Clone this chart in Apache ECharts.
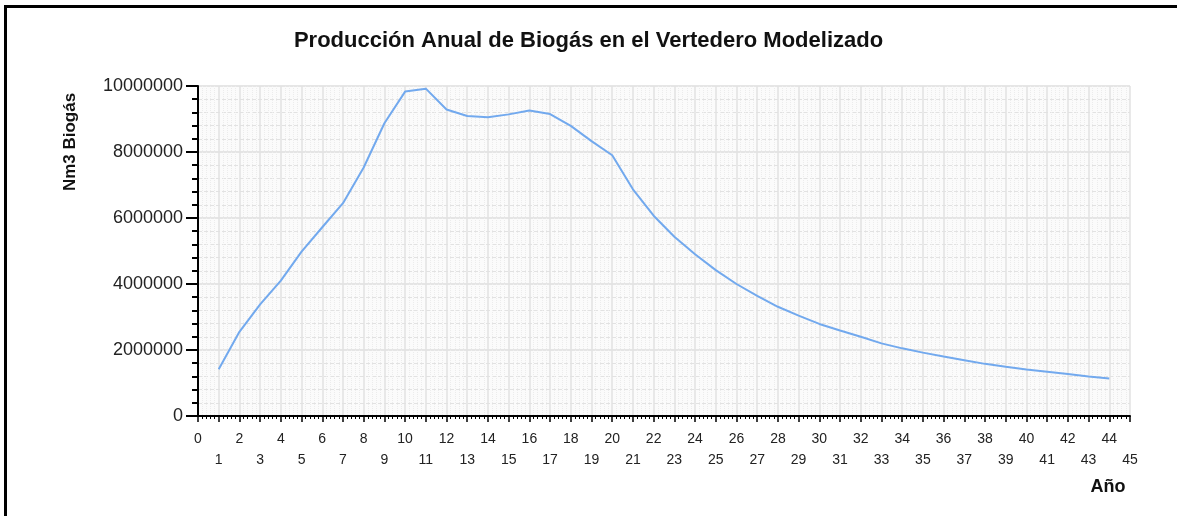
<!DOCTYPE html>
<html>
<head>
<meta charset="utf-8">
<script src="https://cdn.jsdelivr.net/npm/echarts@6/dist/echarts.min.js"></script>
<style>
	html, body { margin: 0; padding: 0; background: #fff; overflow: hidden; }
	#chart-box { width: 1177px; height: 516px; }
</style>
</head>
<body>
<div id="chart-box"></div>
<script>
var years = [1, 2, 3, 4, 5, 6, 7, 8, 9, 10, 11, 12, 13, 14, 15, 16, 17, 18, 19, 20, 21, 22,
	23, 24, 25, 26, 27, 28, 29, 30, 31, 32, 33, 34, 35, 36, 37, 38, 39, 40, 41, 42, 43, 44];
var biogas = [1420000, 2550000, 3380000, 4100000, 4980000, 5720000, 6450000, 7530000, 8870000, 9830000,
	9920000, 9290000, 9090000, 9050000, 9140000, 9260000, 9150000, 8790000, 8330000, 7900000,
	6870000, 6070000, 5430000, 4900000, 4420000, 4000000, 3640000, 3310000, 3040000, 2790000,
	2590000, 2400000, 2200000, 2050000, 1920000, 1800000, 1690000, 1580000, 1490000, 1410000,
	1340000, 1270000, 1200000, 1140000];
var yTicks = [0, 2000000, 4000000, 6000000, 8000000, 10000000];

var font = "'Liberation Sans', Arial, sans-serif";
var chart = echarts.init(document.getElementById("chart-box"));

var option = {
	animation: false,
	backgroundColor: "#fff",
	title: {
		text: "Producción Anual de Biogás en el Vertedero Modelizado",
		left: "center",
		top: 30,
		padding: 0,
		textStyle: {
			fontFamily: font,
			fontSize: 22,
			fontWeight: "bold",
			color: "#111"
		}
	},
	graphic: [
		// outer frame, only left and top edges are in view
		{
			type: "polyline",
			shape: { points: [[5.5, 520], [5.5, 6.5], [1180, 6.5]] },
			style: { stroke: "#000", lineWidth: 3, fill: null }
		},
		{
			type: "text",
			x: 70,
			y: 142,
			rotation: Math.PI / 2,
			style: {
				text: "Nm3 Biogás",
				font: "bold 17px " + font,
				fill: "#111",
				textAlign: "center",
				textVerticalAlign: "middle"
			}
		},
		{
			type: "text",
			x: 1108,
			y: 487,
			style: {
				text: "Año",
				font: "bold 18px " + font,
				fill: "#111",
				textAlign: "center",
				textVerticalAlign: "middle"
			}
		}
	],
	grid: {
		left: 198,
		right: 47,
		top: 86,
		bottom: 100,
		show: true,
		backgroundColor: "#fbfbfb",
		borderWidth: 0
	},
	xAxis: {
		type: "value",
		min: 0,
		max: 45,
		interval: 1,
		axisLine: { lineStyle: { color: "#000", width: 2 } },
		axisTick: { length: 6, lineStyle: { color: "#000", width: 1.5 } },
		minorTick: { show: true, splitNumber: 5, length: 3, lineStyle: { color: "#000" } },
		axisLabel: {
			margin: 13,
			fontFamily: font,
			fontSize: 14,
			lineHeight: 21,
			color: "#222",
			showMinLabel: true,
			showMaxLabel: true,
			formatter: function (v) {
				return v % 2 ? "\n" + v : String(v);
			}
		},
		splitLine: { show: true, lineStyle: { color: "#e2e2e2", width: 1.5 } },
		minorSplitLine: { show: true, lineStyle: { color: "#ececec", type: "dotted" } }
	},
	yAxis: {
		type: "value",
		min: yTicks[0],
		max: yTicks[yTicks.length - 1],
		interval: 2000000,
		axisLine: { show: true, lineStyle: { color: "#000", width: 2 } },
		axisTick: { show: true, length: 12, lineStyle: { color: "#000", width: 2 } },
		minorTick: { show: true, splitNumber: 5, length: 6, lineStyle: { color: "#000", width: 2 } },
		axisLabel: {
			margin: 15,
			fontFamily: font,
			fontSize: 18,
			color: "#222",
			formatter: function (v) {
				return String(v);
			}
		},
		splitLine: { show: true, lineStyle: { color: "#dedede", width: 1.5 } },
		minorSplitLine: { show: true, lineStyle: { color: "#e2e2e2", type: "dashed" } }
	},
	series: [
		{
			type: "line",
			data: years.map(function (y, i) {
				return [y, biogas[i]];
			}),
			showSymbol: false,
			lineStyle: { color: "#72a9ee", width: 2 },
			itemStyle: { color: "#72a9ee" }
		}
	]
};

chart.setOption(option);
</script>
</body>
</html>
